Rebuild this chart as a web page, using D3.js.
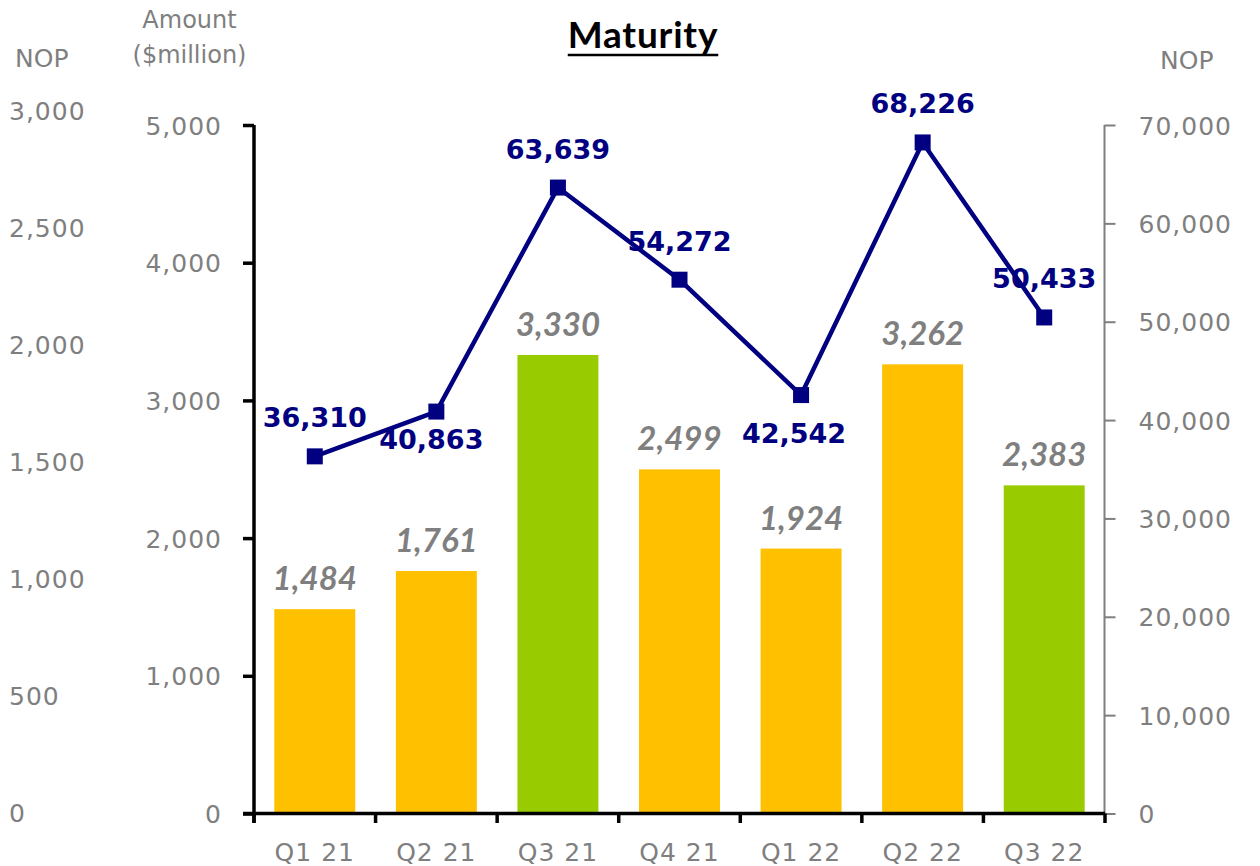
<!DOCTYPE html>
<html>
<head>
<meta charset="utf-8">
<script src="https://cdn.jsdelivr.net/npm/d3@7/dist/d3.min.js"></script>
<style>
  html, body { margin: 0; padding: 0; background: #fff; }
  svg { display: block; }
</style>
</head>
<body>
<svg id="chart" width="1260" height="866"></svg>
<script>
// ---------- data ----------
const categories = ["Q1 21", "Q2 21", "Q3 21", "Q4 21", "Q1 22", "Q2 22", "Q3 22"];
const amounts = [1484, 1761, 3330, 2499, 1924, 3262, 2383];          // $million (bars)
const nopValues = [36310, 40863, 63639, 54272, 42542, 68226, 50433]; // NOP (line)
const highlight = [false, false, true, false, false, false, true];  // green bars
const leftTicks = [0, 1000, 2000, 3000, 4000, 5000];
const rightTicks = [0, 10000, 20000, 30000, 40000, 50000, 60000, 70000];
const farLeftTicks = [0, 500, 1000, 1500, 2000, 2500, 3000];

// ---------- layout / style ----------
const lineLabelOffsets = [[0, -29], [-5, 37], [0, -29], [0, -29], [-7, 48], [0, -29], [0, -29]];
const GREY = "#7f7f7f", NAVY = "#000080", ORANGE = "#FFC000", GREEN = "#99CC00";
const FONT = "'DejaVu Sans', sans-serif";

const svg = d3.select("#chart");
const x = d3.scaleBand().domain(categories).range([254, 1105]).paddingInner(0.334).paddingOuter(0.167);
const yL = d3.scaleLinear().domain([0, 5000]).range([813.5, 125]);
const yR = d3.scaleLinear().domain([0, 70000]).range([813.5, 125]);
const yF = d3.scaleLinear().domain([0, 3000]).range([812.5, 110.5]);
const fmt = d3.format(",");

// bars
svg.append("g").selectAll("rect").data(amounts).join("rect")
  .attr("x", (d, i) => x(categories[i]))
  .attr("width", x.bandwidth())
  .attr("y", d => yL(d))
  .attr("height", d => yL(0) - yL(d))
  .attr("fill", (d, i) => highlight[i] ? GREEN : ORANGE);

// bar labels
svg.append("g").selectAll("text").data(amounts).join("text")
  .attr("x", (d, i) => x(categories[i]) + x.bandwidth() / 2)
  .attr("y", d => yL(d) - 19)
  .attr("text-anchor", "middle")
  .style("font-family", "Lato, sans-serif")
  .style("font-weight", "bold")
  .style("font-style", "italic")
  .style("font-size", "33px")
  .attr("fill", GREY)
  .text(d => fmt(d));

// left axis
const gL = svg.append("g").attr("transform", "translate(254,0)")
  .call(d3.axisLeft(yL).tickValues(leftTicks).tickFormat(fmt).tickSize(11).tickPadding(21));
gL.select(".domain").attr("stroke", "#000").attr("stroke-width", 3.5).attr("d", "M0,125V823");
gL.selectAll(".tick line").attr("stroke", "#000").attr("stroke-width", 3.5);
gL.selectAll(".tick text").attr("fill", GREY).style("font-family", FONT).style("font-size", "25px")
  .style("letter-spacing", "1px").attr("dy", "0.36em");

// right axis
const gR = svg.append("g").attr("transform", "translate(1104.5,0)")
  .call(d3.axisRight(yR).tickValues(rightTicks).tickFormat(fmt).tickSize(11).tickPadding(23));
gR.select(".domain").attr("stroke", GREY).attr("stroke-width", 2).attr("d", "M0,125V813.5");
gR.selectAll(".tick line").attr("stroke", GREY).attr("stroke-width", 2);
gR.selectAll(".tick text").attr("fill", GREY).style("font-family", FONT).style("font-size", "25px")
  .style("letter-spacing", "1px").attr("dy", "0.36em");

// bottom axis (labels)
const gB = svg.append("g").attr("transform", "translate(0,813.5)")
  .call(d3.axisBottom(x).tickSize(0).tickPadding(29.5));
gB.select(".domain").attr("stroke", "#000").attr("stroke-width", 3.5).attr("d", "M243,0H1105");
gB.selectAll(".tick text").attr("fill", GREY).style("font-family", FONT).style("font-size", "25px")
  .style("letter-spacing", "1px");
// category boundary ticks
const edges = categories.map(c => x(c) - x.step() * x.paddingInner() / 2).concat([x.range()[1]]);
svg.append("g").selectAll("line").data(edges).join("line")
  .attr("x1", d => d).attr("x2", d => d)
  .attr("y1", 813.5).attr("y2", 823)
  .attr("stroke", "#000").attr("stroke-width", 3.5);

// far-left NOP scale (text only)
svg.append("g").selectAll("text").data(farLeftTicks).join("text")
  .attr("x", 9).attr("y", d => yF(d)).attr("dy", "0.36em")
  .attr("fill", GREY).style("font-family", FONT).style("font-size", "25px")
  .style("letter-spacing", "1px")
  .text(d => fmt(d));

// line
const pts = nopValues.map((v, i) => [x(categories[i]) + x.bandwidth() / 2, yR(v)]);
svg.append("path").datum(pts)
  .attr("d", d3.line())
  .attr("fill", "none").attr("stroke", NAVY).attr("stroke-width", 4.5).attr("stroke-linejoin", "round");
svg.append("g").selectAll("rect").data(pts).join("rect")
  .attr("x", d => d[0] - 8).attr("y", d => d[1] - 8)
  .attr("width", 16).attr("height", 16).attr("fill", NAVY);

// line labels
svg.append("g").selectAll("text").data(nopValues).join("text")
  .attr("x", (d, i) => pts[i][0] + lineLabelOffsets[i][0])
  .attr("y", (d, i) => pts[i][1] + lineLabelOffsets[i][1])
  .attr("text-anchor", "middle")
  .style("font-family", FONT).style("font-weight", "bold").style("font-size", "27px")
  .attr("fill", NAVY)
  .text(d => fmt(d));

// title
const title = svg.append("text").attr("x", 643).attr("y", 48).attr("text-anchor", "middle")
  .style("font-family", "Lato, sans-serif").style("font-weight", "bold").style("font-size", "37px")
  .style("letter-spacing", "0.8px")
  .attr("fill", "#000").text("Maturity");
const tw = title.node().getComputedTextLength();
svg.append("line").attr("x1", 643 - tw / 2).attr("x2", 643 + tw / 2)
  .attr("y1", 55).attr("y2", 55).attr("stroke", "#000").attr("stroke-width", 2.5);

// axis titles
const ttl = svg.append("g").attr("fill", GREY).style("font-family", FONT).style("font-size", "24px");
ttl.append("text").attr("x", 189.5).attr("y", 28).attr("text-anchor", "middle").text("Amount");
ttl.append("text").attr("x", 189.5).attr("y", 63).attr("text-anchor", "middle").text("($million)");
ttl.append("text").attr("x", 15).attr("y", 67).style("font-size", "25px").text("NOP");
ttl.append("text").attr("x", 1160).attr("y", 69).style("font-size", "25px").text("NOP");
</script>
</body>
</html>
